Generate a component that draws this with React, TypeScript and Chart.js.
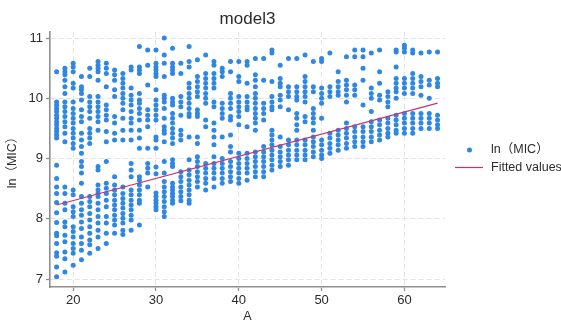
import { useEffect, useRef } from "react";
import { Chart, registerables } from "chart.js";

Chart.register(...registerables);

const FONT = '"Liberation Sans", Arial, Helvetica, "Noto Sans CJK SC", sans-serif';

const titleText = "model3";
const xTitle = "A";
const yTitle = "ln（MIC）";
const legendLabels = ["ln（MIC）", "Fitted values"];

const xTicks = [20, 30, 40, 50, 60];
const yTicks = [7, 8, 9, 10, 11];

const ages = [
  18, 19, 20, 21, 22, 23, 24, 25, 26, 27, 28, 29, 30, 31, 32, 33, 34, 35, 36, 37, 38, 39, 40,
  41, 42, 43, 44, 45, 46, 47, 48, 49, 50, 51, 52, 53, 54, 55, 56, 57, 58, 59, 60, 61, 62, 63, 64,
];

// ln(MIC) observations per age (one row per entry of `ages`)
const lnMIC: number[][] = [
  [10.44, 9.94, 9.89, 9.83, 9.78, 9.72, 9.67, 9.61, 9.56, 9.5, 9.45, 9.39, 9.34, 8.89, 8.67, 8.53, 8.42, 8.27, 8.1, 7.94, 7.76, 7.72, 7.59, 7.44, 7.38, 7.2, 7.04],
  [10.5, 10.44, 10.39, 10.3, 10.19, 10.08, 9.94, 9.86, 9.78, 9.7, 9.61, 9.53, 9.42, 9.28, 8.53, 8.42, 8.26, 8.15, 7.95, 7.87, 7.73, 7.62, 7.45, 7.34, 7.12],
  [10.58, 10.52, 10.44, 10.25, 10.17, 9.94, 9.83, 9.75, 9.67, 9.59, 9.5, 9.42, 9.34, 9.25, 9.17, 8.48, 8.4, 8.2, 8.12, 8.04, 7.87, 7.79, 7.7, 7.59, 7.51, 7.43, 7.23],
  [10.36, 10.19, 10.14, 10.08, 9.97, 9.81, 9.7, 9.61, 9.42, 9.31, 9.2, 9.09, 8.95, 8.87, 8.76, 8.59, 8.37, 8.26, 8.15, 8.06, 7.95, 7.84, 7.7, 7.59, 7.48, 7.32],
  [10.5, 10.36, 10.03, 9.94, 9.86, 9.78, 9.67, 9.5, 9.42, 9.34, 9.25, 8.37, 8.29, 8.2, 8.09, 7.98, 7.87, 7.76, 7.65, 7.57, 7.43],
  [10.61, 10.55, 10.5, 10.44, 10.3, 10.03, 9.94, 9.86, 9.78, 9.7, 9.61, 9.47, 8.87, 8.81, 8.56, 8.48, 8.42, 8.37, 8.26, 8.15, 8.04, 7.93, 7.81, 7.7, 7.51],
  [10.58, 10.5, 10.41, 10.19, 9.89, 9.81, 9.72, 9.64, 9.45, 9.28, 8.95, 8.59, 8.51, 8.42, 8.31, 8.2, 8.04, 7.93, 7.76, 7.59],
  [10.47, 10.39, 10.3, 10.14, 10.03, 9.7, 9.59, 9.42, 9.31, 8.7, 8.56, 8.48, 8.4, 8.31, 8.23, 8.15, 8.06, 7.98, 7.9, 7.76],
  [10.41, 10.33, 10.25, 10.17, 10.08, 10.0, 9.92, 9.81, 9.67, 9.47, 9.31, 8.53, 8.42, 8.34, 8.26, 8.18, 8.09, 8.01, 7.93, 7.81, 7.74],
  [10.52, 10.47, 10.17, 10.05, 9.97, 9.89, 9.78, 9.67, 9.59, 9.47, 9.31, 8.92, 8.81, 8.7, 8.48, 8.4, 8.31, 8.23, 8.15, 8.06, 7.98, 7.81],
  [10.86, 10.52, 10.47, 10.41, 10.08, 9.97, 9.92, 9.83, 9.75, 9.64, 9.47, 9.34, 9.17, 8.7, 8.64, 8.56, 8.48, 8.4, 8.31, 8.26, 7.9],
  [10.8, 10.55, 10.22, 9.81, 9.72, 9.64, 9.53, 9.17, 8.92, 8.84, 8.76, 8.53],
  [10.8, 10.58, 10.52, 10.47, 10.41, 10.36, 10.14, 9.97, 9.89, 9.81, 9.72, 9.64, 9.36, 9.31, 9.17, 8.86, 8.75, 8.43, 8.37, 8.31, 8.26, 8.2, 8.15],
  [11.0, 10.72, 10.58, 10.36, 10.05, 10.0, 9.94, 9.83, 9.67, 9.53, 9.47, 9.42, 9.28, 8.95, 8.76, 8.62, 8.53, 8.45, 8.37, 8.29, 8.2, 8.12, 8.04],
  [10.83, 10.58, 10.52, 10.47, 10.41, 10.0, 9.94, 9.89, 9.75, 9.67, 9.59, 9.5, 9.42, 9.34, 9.25, 8.98, 8.92, 8.87, 8.59, 8.53, 8.48, 8.42, 8.37, 8.31, 8.26],
  [10.58, 10.41, 10.03, 9.94, 9.86, 9.72, 9.47, 9.39, 9.31, 8.78, 8.7, 8.62, 8.53, 8.45, 8.37, 8.3],
  [10.86, 10.61, 10.52, 10.25, 10.17, 10.08, 10.0, 9.92, 9.83, 9.75, 9.7, 9.36, 8.98, 8.81, 8.73, 8.64, 8.56, 8.48, 8.4, 8.31, 8.26],
  [10.64, 10.36, 10.28, 10.19, 10.11, 10.03, 9.81, 9.75, 9.7, 9.36, 9.25, 9.03, 8.95, 8.87, 8.78, 8.7, 8.62, 8.53],
  [10.72, 10.41, 10.33, 10.25, 10.17, 10.08, 10.0, 9.92, 9.64, 9.53, 8.92, 8.84, 8.76, 8.67, 8.59, 8.48],
  [10.61, 10.55, 10.41, 10.33, 10.25, 10.17, 9.94, 9.86, 9.59, 9.47, 9.36, 9.23, 9.03, 8.92, 8.84, 8.76, 8.67, 8.53],
  [10.5, 10.44, 10.36, 9.92, 9.83, 9.75, 9.67, 9.36, 9.0, 8.92, 8.84, 8.76, 8.67, 8.59],
  [10.61, 10.44, 10.08, 10.0, 9.92, 9.83, 9.7, 9.64, 9.39, 9.2, 9.11, 8.95, 8.87, 8.78, 8.7, 8.62],
  [10.61, 10.36, 10.28, 10.03, 9.94, 9.86, 9.78, 9.7, 9.56, 9.09, 9.0, 8.92, 8.84, 8.76, 8.67, 8.59],
  [10.61, 10.55, 10.25, 10.03, 9.94, 9.86, 9.81, 9.53, 9.09, 9.0, 8.92, 8.84, 8.76, 8.64],
  [10.66, 10.39, 10.3, 10.19, 10.08, 10.0, 9.92, 9.83, 9.75, 9.67, 9.59, 9.47, 9.11, 9.03, 8.95, 8.87, 8.78, 8.7],
  [10.66, 10.3, 9.92, 9.83, 9.75, 9.64, 9.2, 9.11, 9.03, 8.95, 8.87, 8.78, 8.7],
  [10.8, 10.75, 10.28, 10.03, 9.94, 9.86, 9.81, 9.47, 9.39, 9.31, 9.23, 9.14, 9.06, 8.98, 8.89, 8.81],
  [10.55, 10.33, 10.25, 10.19, 10.05, 9.97, 9.86, 9.36, 9.2, 9.11, 9.03, 8.95, 8.87],
  [10.66, 10.19, 10.11, 10.03, 9.81, 9.31, 9.23, 9.14, 9.06, 8.98, 8.89],
  [10.66, 10.19, 10.11, 10.03, 9.97, 9.75, 9.67, 9.56, 9.47, 9.31, 9.23, 9.14, 9.06, 8.98],
  [10.72, 10.36, 10.28, 10.19, 10.11, 10.03, 9.94, 9.7, 9.61, 9.31, 9.23, 9.14, 9.06, 8.98],
  [10.61, 10.19, 10.11, 9.83, 9.75, 9.67, 9.59, 9.47, 9.36, 9.28, 9.2, 9.11, 9.03],
  [10.66, 10.61, 10.17, 10.08, 10.0, 9.92, 9.67, 9.31, 9.23, 9.14, 9.06, 9.0],
  [10.75, 10.19, 10.11, 10.03, 9.42, 9.34, 9.25, 9.17, 9.09],
  [10.44, 10.28, 10.19, 10.11, 10.05, 9.47, 9.39, 9.31, 9.23, 9.14],
  [10.69, 10.3, 10.22, 10.14, 10.05, 9.94, 9.59, 9.5, 9.42, 9.34, 9.25, 9.17],
  [10.8, 10.69, 10.22, 10.14, 10.05, 9.53, 9.45, 9.36, 9.28, 9.2],
  [10.8, 10.69, 10.5, 10.3, 9.89, 9.53, 9.45, 9.36, 9.28, 9.2],
  [10.75, 10.17, 10.08, 10.0, 9.78, 9.61, 9.53, 9.45, 9.36, 9.28],
  [10.8, 10.44, 10.25, 10.05, 9.97, 9.64, 9.56, 9.47, 9.39, 9.31],
  [10.11, 10.03, 9.94, 9.86, 9.67, 9.59, 9.5, 9.42, 9.36],
  [10.8, 10.77, 10.52, 10.33, 10.25, 10.17, 10.11, 10.0, 9.72, 9.64, 9.56, 9.47, 9.42],
  [10.88, 10.83, 10.77, 10.33, 10.25, 10.17, 10.08, 9.75, 9.67, 9.59, 9.5, 9.42],
  [10.8, 10.75, 10.41, 10.33, 10.25, 10.17, 10.08, 9.75, 9.67, 9.59, 9.5, 9.42],
  [10.75, 10.36, 10.28, 10.19, 10.05, 9.75, 9.67, 9.59, 9.5],
  [10.77, 10.3, 10.22, 10.0, 9.75, 9.67, 9.59, 9.5],
  [10.77, 10.33, 10.25, 10.19, 9.72, 9.64, 9.56, 9.5],
];

const fitAges = [18, 64];
const fitValues = [8.23, 9.92];

const POINT_COLOR = "#2f87e2";
const LINE_COLOR = "#c8336e";
const AXIS_COLOR = "#8f8f8f";
const GRID_COLOR = "#e3e3e3";
const TEXT_COLOR = "#2b2b2b";

const overlay = {
  id: "overlay",
  afterDraw(chart: any) {
    const ctx = chart.ctx as CanvasRenderingContext2D;
    const ca = chart.chartArea;
    ctx.save();
    ctx.fillStyle = TEXT_COLOR;
    ctx.textAlign = "center";
    ctx.textBaseline = "middle";
    ctx.font = `17px ${FONT}`;
    ctx.fillText(titleText, (ca.left + ca.right) / 2, 19.5);

    // legend
    ctx.textAlign = "left";
    ctx.font = `12.5px ${FONT}`;
    ctx.fillStyle = POINT_COLOR;
    ctx.beginPath();
    ctx.arc(469.5, 150, 2.5, 0, Math.PI * 2);
    ctx.fill();
    ctx.fillStyle = TEXT_COLOR;
    ctx.fillText(legendLabels[0], 491, 150);
    ctx.strokeStyle = LINE_COLOR;
    ctx.lineWidth = 1.2;
    ctx.beginPath();
    ctx.moveTo(455, 167.5);
    ctx.lineTo(483, 167.5);
    ctx.stroke();
    ctx.fillText(legendLabels[1], 491, 167.5);
    ctx.restore();
  },
};

export default function App() {
  const ref = useRef<HTMLCanvasElement | null>(null);

  useEffect(() => {
    if (!ref.current) return;
    const points: { x: number; y: number }[] = [];
    ages.forEach((a, i) => {
      lnMIC[i].forEach((v) => points.push({ x: a, y: v }));
    });
    const fit = fitAges.map((a, i) => ({ x: a, y: fitValues[i] }));

    const chart = new Chart(ref.current, {
      type: "scatter",
      data: {
        datasets: [
          {
            type: "line",
            label: legendLabels[1],
            data: fit,
            borderColor: LINE_COLOR,
            borderWidth: 1.2,
            pointRadius: 0,
            fill: false,
            order: 0,
          } as any,
          {
            type: "scatter",
            label: legendLabels[0],
            data: points,
            backgroundColor: POINT_COLOR,
            borderWidth: 0,
            pointRadius: 2.5,
            order: 1,
          },
        ],
      },
      options: {
        animation: false,
        responsive: false,
        layout: { padding: { left: 0, top: 32, right: 116, bottom: 0 } },
        plugins: {
          legend: { display: false },
          title: { display: false },
          tooltip: { enabled: false },
        },
        scales: {
          x: {
            type: "linear",
            min: 17.2,
            max: 64.9,
            afterBuildTicks: (s: any) => {
              s.ticks = xTicks.map((v) => ({ value: v }));
            },
            afterFit: (s: any) => {
              s.height = 35;
            },
            ticks: {
              color: TEXT_COLOR,
              font: { family: FONT, size: 13 },
              padding: 2,
              maxRotation: 0,
              callback: (v: any) => String(v),
            },
            grid: {
              color: GRID_COLOR,
              lineWidth: 1,
              tickColor: AXIS_COLOR,
              tickLength: 4,
              tickWidth: 1.3,
              tickBorderDash: [],
            },
            border: { color: AXIS_COLOR, width: 1.6, dash: [5, 3] },
            title: {
              display: true,
              text: xTitle,
              color: TEXT_COLOR,
              font: { family: FONT, size: 12.5 },
              padding: { top: 0, bottom: -2 },
            },
          },
          y: {
            type: "linear",
            min: 6.87,
            max: 11.1,
            afterBuildTicks: (s: any) => {
              s.ticks = yTicks.map((v) => ({ value: v }));
            },
            afterFit: (s: any) => {
              s.width = 50;
            },
            ticks: {
              color: TEXT_COLOR,
              font: { family: FONT, size: 13 },
              padding: 3,
              callback: (v: any) => String(v),
            },
            grid: {
              color: GRID_COLOR,
              lineWidth: 1,
              tickColor: AXIS_COLOR,
              tickLength: 4,
              tickWidth: 1.3,
              tickBorderDash: [],
            },
            border: { color: AXIS_COLOR, width: 1.6, dash: [5, 3] },
            title: {
              display: true,
              text: yTitle,
              color: TEXT_COLOR,
              font: { family: FONT, size: 12.5 },
              padding: { top: 5, bottom: 0 },
            },
          },
        },
      },
      plugins: [overlay],
    });
    return () => chart.destroy();
  }, []);

  return (
    <div style={{ position: "absolute", left: 0, top: 0, width: 561, height: 322, background: "#fff" }}>
      <canvas ref={ref} width={561} height={322} />
    </div>
  );
}
